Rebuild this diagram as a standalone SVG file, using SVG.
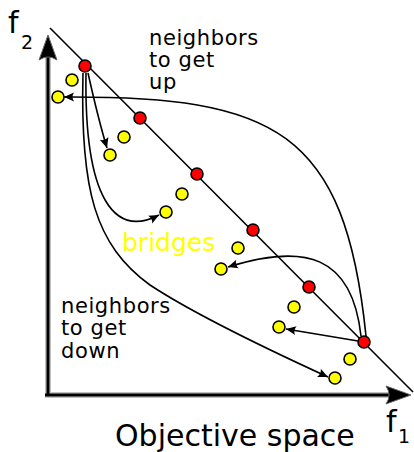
<svg xmlns="http://www.w3.org/2000/svg" width="414" height="452" viewBox="0 0 414 452">
<style>
.red{fill:#ff0000;stroke:#000;stroke-width:1.6}
.yel{fill:#ffff00;stroke:#000;stroke-width:1.6}
.con{fill:none;stroke:#000;stroke-width:1.6}
.txt{font-family:"DejaVu Sans",sans-serif;fill:#000}
.lbl{font-family:"DejaVu Sans",sans-serif;fill:#000;font-size:21px;letter-spacing:0.6px}
.axglow{fill:none;stroke:#999;stroke-width:6}
.ax{fill:none;stroke:#000;stroke-width:3}
</style>
<defs>
<marker id="arr" markerUnits="userSpaceOnUse" viewBox="-11 -5 12 10" refX="0" refY="0" markerWidth="12" markerHeight="10" orient="auto">
<path d="M0,0 L-10,-4.5 Q-7,0 -10,4.5 Z" fill="#000"/>
</marker>
</defs>
<rect width="414" height="452" fill="#fff"/>
<g id="axes">
<path class="axglow" d="M48,396 V55 M45,395 H392" opacity="0.6"/>
<path class="ax" d="M48,396 V55 M45,395 H392"/>
<path d="M48,35 L57,60 Q48,54 39,60 Z" fill="#000" stroke="#666" stroke-width="1"/>
<path d="M411,395 L386,404 Q392,395 386,386 Z" fill="#000" stroke="#666" stroke-width="1"/>
</g>
<g id="front">
<line x1="50" y1="28" x2="413" y2="392" stroke="#000" stroke-width="1.6"/>
</g>
<g id="connectors">
<path class="con" marker-end="url(#arr)" d="M366,336 C345,130 275,96 64,97"/>
<path class="con" marker-end="url(#arr)" d="M361,336 C352,255 305,243 228,267"/>
<path class="con" marker-end="url(#arr)" d="M358,341 L286,329"/>
<path class="con" marker-end="url(#arr)" d="M88,73 C94,100 100,125 107,148"/>
<path class="con" marker-end="url(#arr)" d="M86,73 C84,200 115,238 159,215"/>
<path class="con" marker-end="url(#arr)" d="M83,73 C80,190 95,245 150,285 C200,318 280,355 328,377"/>
</g>
<g id="red-points">
<circle class="red" cx="85" cy="66" r="6"/>
<circle class="red" cx="140" cy="118" r="6"/>
<circle class="red" cx="197" cy="174" r="6"/>
<circle class="red" cx="253" cy="230" r="6"/>
<circle class="red" cx="309" cy="287" r="6"/>
<circle class="red" cx="364" cy="342" r="6"/>
</g>
<g id="yellow-points">
<circle class="yel" cx="72" cy="80" r="6"/>
<circle class="yel" cx="58" cy="97" r="6"/>
<circle class="yel" cx="124" cy="137" r="6"/>
<circle class="yel" cx="110" cy="155" r="6"/>
<circle class="yel" cx="182" cy="194" r="6"/>
<circle class="yel" cx="166" cy="212" r="6"/>
<circle class="yel" cx="238" cy="248" r="6"/>
<circle class="yel" cx="221" cy="269" r="6"/>
<circle class="yel" cx="294" cy="307" r="6"/>
<circle class="yel" cx="279" cy="327" r="6"/>
<circle class="yel" cx="350" cy="359" r="6"/>
<circle class="yel" cx="335" cy="378" r="6"/>
</g>
<g id="labels">
<text class="txt" x="8" y="33" font-size="30">f</text>
<text class="txt" x="21" y="49" font-size="19">2</text>
<text class="txt" x="386" y="432" font-size="30">f</text>
<text class="txt" x="398" y="443" font-size="19">1</text>
<text class="lbl" x="149" y="45">neighbors</text>
<text class="lbl" x="149" y="67">to get</text>
<text class="lbl" x="149" y="89">up</text>
<text class="lbl" x="61" y="313">neighbors</text>
<text class="lbl" x="61" y="335">to get</text>
<text class="lbl" x="61" y="358">down</text>
<text font-family="DejaVu Sans,sans-serif" font-size="25" fill="#ffff00" x="122" y="251">bridges</text>
<text class="txt" font-size="30" x="115" y="446">Objective space</text>
</g>
</svg>
